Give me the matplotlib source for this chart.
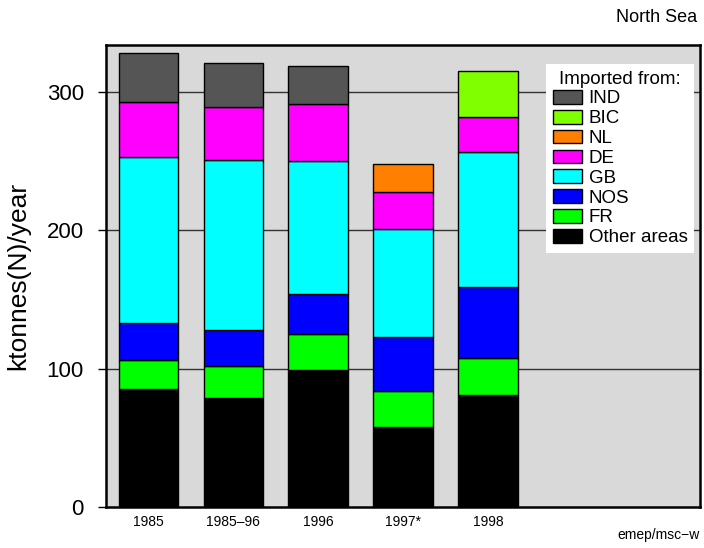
import matplotlib
matplotlib.use("Agg")
import matplotlib.pyplot as plt
import numpy as np

plt.rcParams['font.family'] = ['Liberation Sans', 'DejaVu Sans']

#Bar categories and the stacked series (bottom to top), ktonnes(N)/year
categories = ["1985", "1985\u201396", "1996", "1997*", "1998"]
other_areas = [85, 79, 99, 58, 81]
fr = [21, 23, 26, 26, 27]
nos = [27, 26, 29, 39, 51]
gb = [120, 123, 96, 78, 98]
de = [40, 38, 41, 27, 25]
nl = [0, 0, 0, 20, 0]
bic = [0, 0, 0, 0, 33]
ind = [35, 32, 28, 0, 0]

series = [("Other areas", other_areas, "#000000"),
          ("FR", fr, "#00ff00"),
          ("NOS", nos, "#0000ff"),
          ("GB", gb, "#00ffff"),
          ("DE", de, "#ff00ff"),
          ("NL", nl, "#ff8000"),
          ("BIC", bic, "#80ff00"),
          ("IND", ind, "#555555")]

fig = plt.figure(figsize=(7.04, 5.48), dpi=100)
ax = fig.add_axes([106/704, 1-507/548, 594/704, 462/548])
ax.set_facecolor("#d9d9d9")

#Gridlines behind the bars
for y in [100, 200, 300]:
    ax.axhline(y, color="#333333", linewidth=1, zorder=1)

x = np.arange(len(categories))
bottom = np.zeros(len(categories))
handles = []
for name, vals, col in series:
    vals = np.array(vals, dtype=float)
    mask = vals > 0
    bars = ax.bar(x[mask], vals[mask], bottom=bottom[mask], width=0.7,
                  color=col, edgecolor="black", linewidth=1, zorder=2, label=name)
    handles.append(bars)
    bottom += vals

ax.set_xlim(-0.5, 6.5)
ax.set_ylim(0, 334)
ax.set_xticks(x)
ax.set_xticklabels(categories, fontsize=10)
ax.set_yticks([0, 100, 200, 300])
ax.tick_params(axis="y", labelsize=16, length=6, width=1, pad=10)
ax.tick_params(axis="x", length=0, pad=6)
ax.set_ylabel("ktonnes(N)/year", fontsize=19)
ax.yaxis.set_label_coords(-0.128, 0.5)

for sp in ax.spines.values():
    sp.set_linewidth(1.8)

leg = ax.legend(handles[::-1], [s[0] for s in series][::-1], title="Imported from:",
                loc="upper right", bbox_to_anchor=(694/704, 1-64/548),
                bbox_transform=fig.transFigure, fontsize=13.5, title_fontsize=13.5,
                frameon=True, fancybox=False, edgecolor="none", facecolor="white",
                framealpha=1, handlelength=1.55, handleheight=0.75, labelspacing=0.13,
                handletextpad=0.35, borderpad=0.35, borderaxespad=0)
leg.get_frame().set_linewidth(0)

fig.text(697/704, 1-18/548, "North Sea", ha="right", va="center", fontsize=13)
fig.text(700/704, 1-535/548, "emep/msc\u2212w", ha="right", va="center", fontsize=10)

fig.savefig("out.png", dpi=100)
